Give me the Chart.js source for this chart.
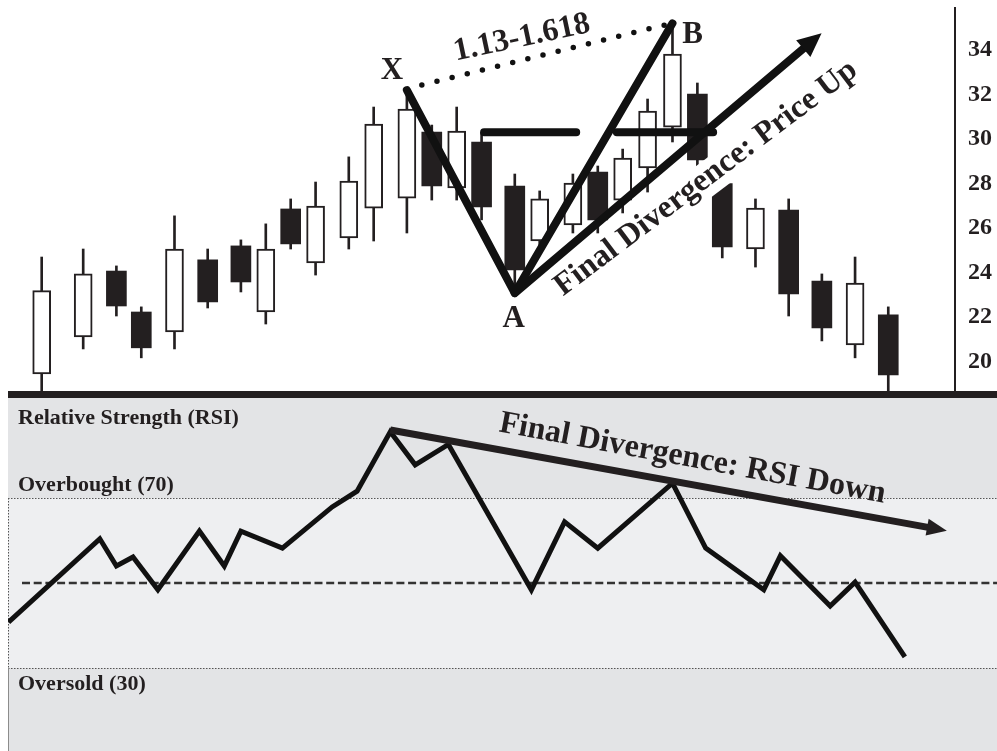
<!DOCTYPE html>
<html lang="en">

<head>
    <meta charset="UTF-8">
    <title>Final Divergence: Price Up / RSI Down</title>
    <script src="https://cdn.jsdelivr.net/npm/chart.js"></script>
    <style>
        body { margin: 0; background: #fff; }
        canvas { position: absolute; left: 0; }
        #priceChart { top: 0; }
        #rsiChart { top: 391px; }
    </style>
</head>

<body>
    <canvas id="priceChart" width="997" height="391"></canvas>
    <canvas id="rsiChart" width="997" height="360"></canvas>
    <script>
        const INK = '#231f20';
        const SERIF = '"Liberation Serif", "Times New Roman", serif';

        // candles: trading day + OHLC
        const candleDays  = [0, 5, 9, 12, 16, 20, 24, 27, 30, 33, 37, 40, 44, 47, 50, 53, 57, 60, 64, 67, 70, 73, 76, 79, 82, 86, 90, 94, 98, 102];
        const candleOpen  = [19.45, 21.11, 24.07, 22.23, 21.34, 24.57, 25.20, 22.23, 26.86, 24.43, 25.56, 26.90, 27.35, 30.31, 27.80,
                             29.87, 27.89, 25.42, 26.14, 28.52, 27.26, 28.70, 30.54, 32.02, 28.00, 25.06, 26.81, 23.62, 20.75, 22.10];
        const candleHigh  = [24.70, 25.06, 24.30, 22.46, 26.55, 25.06, 25.47, 26.19, 27.31, 28.07, 29.20, 31.44, 32.20, 30.63, 31.44,
                             30.30, 28.43, 27.67, 28.43, 28.79, 29.55, 31.80, 35.20, 32.52, 28.40, 27.31, 27.31, 23.94, 24.70, 22.46];
        const candleLow   = [18.68, 20.57, 22.05, 20.17, 20.57, 22.41, 23.13, 21.69, 25.06, 23.89, 25.06, 25.42, 25.78, 27.26, 27.26,
                             26.37, 23.30, 25.00, 25.78, 25.78, 26.68, 27.62, 29.87, 28.60, 24.66, 24.25, 22.05, 20.93, 20.17, 18.68];
        const candleClose = [23.19, 23.94, 22.50, 20.62, 25.06, 22.68, 23.58, 25.06, 25.29, 26.99, 28.11, 30.67, 31.35, 27.89, 30.36,
                             26.95, 24.12, 27.31, 28.02, 26.37, 29.15, 31.26, 33.82, 29.06, 25.15, 26.90, 23.04, 21.51, 23.53, 19.40];
        const priceTicks = [20, 22, 24, 26, 28, 30, 32, 34];

        // pattern drawing on the price panel
        const xabNames  = ['X', 'A', 'B'];
        const xabDays   = [44, 57, 76];
        const xabPrices = [32.2, 23.08, 35.2];
        const priceUpDays   = [57, 91.85];
        const priceUpPrices = [23.08, 34.09];
        const resistDays   = [53.3, 64.4, 66, 69.3, 80.9];
        const resistPrices = [30.31, 30.31, null, 30.31, 30.31];
        const projDays   = [45.8, 75.1];
        const projPrices = [32.43, 35.13];

        // RSI panel
        const rsiDays   = [-4, 7, 9, 11, 14, 19, 22, 24, 29, 35, 38, 42, 45, 49, 59, 63, 67, 76, 80, 87, 89, 95, 98, 104];
        const rsiValues = [40.8, 60.4, 54.0, 56.1, 48.4, 62.2, 54.0, 62.2, 58.2, 67.9, 71.6, 85.6, 77.8, 82.6,
                           48.4, 64.4, 58.2, 73.5, 58.2, 48.4, 56.4, 44.6, 50.2, 32.6];
        const rsiTrendDays   = [42, 106.8];
        const rsiTrendValues = [86, 63.1];
        const overbought = 70;
        const oversold = 30;
        const midLevel = 50;

        const pts = (xs, ys) => xs.map((x, i) => ({ x: x, y: ys[i] }));
        const isUp = candleClose.map((c, i) => c >= candleOpen[i]);
        const bodies = candleDays.map((d, i) => ({ x: d, y: [candleOpen[i], candleClose[i]] }));
        const wicks = candleDays.map((d, i) => ({ x: d, y: [candleLow[i], candleHigh[i]] }));

        function drawCaption(ctx, xs, ys, c) {
            ctx.save();
            ctx.translate(xs.getPixelForValue(c.day), ys.getPixelForValue(c.value));
            ctx.rotate(c.angle * Math.PI / 180);
            ctx.font = 'bold ' + c.size + 'px ' + SERIF;
            ctx.textAlign = 'center';
            ctx.textBaseline = c.baseline || 'alphabetic';
            if (c.knockout) {
                const w = ctx.measureText(c.text).width;
                ctx.fillStyle = '#fff';
                ctx.fillRect(-w / 2 - 3, -0.75 * c.size, w + 6, 0.75 * c.size + 10);
            }
            ctx.fillStyle = INK;
            ctx.fillText(c.text, 0, 0);
            ctx.restore();
        }

        // triangle at the end of any dataset flagged with arrowHead
        const arrowHeads = {
            id: 'arrowHeads',
            afterDatasetsDraw(chart) {
                const ctx = chart.ctx;
                chart.data.datasets.forEach((ds, i) => {
                    if (!ds.arrowHead) return;
                    const el = chart.getDatasetMeta(i).data;
                    const a = el[el.length - 2], b = el[el.length - 1];
                    ctx.save();
                    ctx.translate(b.x, b.y);
                    ctx.rotate(Math.atan2(b.y - a.y, b.x - a.x));
                    ctx.beginPath();
                    ctx.moveTo(ds.arrowHead.length, 0);
                    ctx.lineTo(-1, -ds.arrowHead.width / 2);
                    ctx.lineTo(-1, ds.arrowHead.width / 2);
                    ctx.closePath();
                    ctx.fillStyle = ds.borderColor;
                    ctx.fill();
                    ctx.restore();
                });
            }
        };

        const priceNotes = {
            id: 'priceNotes',
            afterDatasetsDraw(chart) {
                const { ctx, scales: { x, y } } = chart;
                const nameOffsets = [[-15, -11], [-1, 34], [20, 20]];
                ctx.save();
                ctx.fillStyle = INK;
                ctx.textAlign = 'center';
                ctx.textBaseline = 'alphabetic';
                ctx.font = 'bold 31px ' + SERIF;
                xabNames.forEach((name, i) => {
                    ctx.fillText(name,
                        x.getPixelForValue(xabDays[i]) + nameOffsets[i][0],
                        y.getPixelForValue(xabPrices[i]) + nameOffsets[i][1]);
                });
                ctx.restore();
                drawCaption(ctx, x, y, { text: '1.13-1.618', day: 57.86, value: 34.54, angle: -12, size: 32, baseline: 'middle' });
                drawCaption(ctx, x, y, { text: 'Final Divergence: Price Up', day: 80.64, value: 27.94, angle: -37, size: 32, knockout: true });
            }
        };

        const priceChart = new Chart(document.getElementById('priceChart'), {
            type: 'bar',
            data: {
                datasets: [
                    {
                        type: 'line', data: pts(projDays, projPrices), borderColor: '#111', borderWidth: 5.5,
                        borderDash: [0, 15.6], borderCapStyle: 'round', pointRadius: 0, order: 0
                    },
                    {
                        type: 'line', data: pts(xabDays, xabPrices), borderColor: '#111', borderWidth: 8,
                        borderCapStyle: 'round', borderJoinStyle: 'round', pointRadius: 0, order: 0
                    },
                    {
                        type: 'line', data: pts(priceUpDays, priceUpPrices), borderColor: '#111', borderWidth: 8,
                        borderCapStyle: 'round', pointRadius: 0, order: 0, arrowHead: { length: 23, width: 22 }
                    },
                    {
                        type: 'line', data: pts(resistDays, resistPrices), borderColor: '#111', borderWidth: 8,
                        borderCapStyle: 'round', pointRadius: 0, spanGaps: false, order: 0
                    },
                    {
                        data: bodies.filter((_, i) => isUp[i]), backgroundColor: '#fff', borderColor: INK,
                        borderWidth: 2, borderSkipped: false, barThickness: 18, grouped: false, order: 2
                    },
                    {
                        data: bodies.filter((_, i) => !isUp[i]), backgroundColor: INK, borderWidth: 0,
                        barThickness: 20, grouped: false, order: 2
                    },
                    {
                        data: wicks, backgroundColor: INK, borderWidth: 0,
                        barThickness: 2, grouped: false, order: 3
                    }
                ]
            },
            options: {
                responsive: false,
                animation: false,
                events: [],
                layout: { padding: { left: 8, top: 8, right: 0, bottom: 0 } },
                plugins: { legend: { display: false }, tooltip: { enabled: false } },
                scales: {
                    x: { type: 'linear', min: -4.06, max: 110.04, offset: false, display: false },
                    y: {
                        position: 'right',
                        min: 18.68,
                        max: 35.89,
                        grid: { display: false, drawTicks: false },
                        border: { display: true, color: INK, width: 2 },
                        ticks: {
                            padding: 13,
                            color: INK,
                            font: { family: SERIF, size: 24, weight: 'bold' }
                        },
                        afterBuildTicks: (scale) => { scale.ticks = priceTicks.map(v => ({ value: v })); },
                        afterFit: (scale) => { scale.width = 42; scale.paddingTop = 0; scale.paddingBottom = 0; }
                    }
                }
            },
            plugins: [priceNotes, arrowHeads]
        });

        const rsiPanel = {
            id: 'rsiPanel',
            beforeDatasetsDraw(chart) {
                const { ctx, chartArea: a, scales: { y } } = chart;
                const yHi = y.getPixelForValue(overbought);
                const yLo = y.getPixelForValue(oversold);
                const yMid = y.getPixelForValue(midLevel);
                ctx.save();
                ctx.fillStyle = '#e3e4e6';
                ctx.fillRect(a.left, a.top, a.right - a.left, a.bottom - a.top);
                ctx.fillStyle = '#eeeff1';
                ctx.fillRect(a.left, yHi, a.right - a.left, yLo - yHi);
                ctx.fillStyle = INK;
                ctx.fillRect(a.left, 0, a.right - a.left, a.top);

                ctx.strokeStyle = '#555';
                ctx.lineWidth = 1;
                ctx.setLineDash([1.5, 1.5]);
                ctx.beginPath();
                ctx.moveTo(a.left, Math.round(yHi) + 0.5); ctx.lineTo(a.right, Math.round(yHi) + 0.5);
                ctx.moveTo(a.left, Math.round(yLo) + 0.5); ctx.lineTo(a.right, Math.round(yLo) + 0.5);
                ctx.moveTo(a.left + 0.5, yHi); ctx.lineTo(a.left + 0.5, yLo);
                ctx.stroke();
                ctx.setLineDash([]);
                ctx.strokeStyle = '#8c8c8c';
                ctx.beginPath();
                ctx.moveTo(a.left + 0.5, yLo); ctx.lineTo(a.left + 0.5, a.bottom);
                ctx.stroke();

                ctx.strokeStyle = '#333';
                ctx.lineWidth = 2.5;
                ctx.setLineDash([8, 3.7]);
                ctx.beginPath();
                ctx.moveTo(a.left + 14, yMid); ctx.lineTo(a.right, yMid);
                ctx.stroke();
                ctx.restore();
            },
            afterDatasetsDraw(chart) {
                const { ctx, chartArea: a, scales: { x, y } } = chart;
                ctx.save();
                ctx.fillStyle = INK;
                ctx.textAlign = 'left';
                ctx.textBaseline = 'alphabetic';
                ctx.font = 'bold 22px ' + SERIF;
                ctx.fillText('Relative Strength (RSI)', a.left + 10, a.top + 26);
                ctx.fillText('Overbought (' + overbought + ')', a.left + 10, y.getPixelForValue(overbought) - 7);
                ctx.fillText('Oversold (' + oversold + ')', a.left + 10, y.getPixelForValue(oversold) + 22);
                ctx.restore();
                drawCaption(ctx, x, y, { text: 'Final Divergence: RSI Down', day: 78.23, value: 77.3, angle: 10.5, size: 32 });
            }
        };

        const rsiChart = new Chart(document.getElementById('rsiChart'), {
            type: 'line',
            data: {
                datasets: [
                    {
                        data: pts(rsiTrendDays, rsiTrendValues), borderColor: INK, borderWidth: 7,
                        borderCapStyle: 'butt', pointRadius: 0, order: 0, arrowHead: { length: 19, width: 17 }
                    },
                    {
                        data: pts(rsiDays, rsiValues), borderColor: '#111', borderWidth: 5,
                        borderJoinStyle: 'miter', tension: 0, pointRadius: 0, order: 1
                    }
                ]
            },
            options: {
                responsive: false,
                animation: false,
                events: [],
                layout: { padding: { left: 8, top: 7, right: 0, bottom: 0 } },
                plugins: { legend: { display: false }, tooltip: { enabled: false } },
                scales: {
                    x: { type: 'linear', min: -4.06, max: 115.1, display: false },
                    y: { min: 10.47, max: 93.53, display: false }
                }
            },
            plugins: [rsiPanel, arrowHeads]
        });
    </script>
</body>

</html>
